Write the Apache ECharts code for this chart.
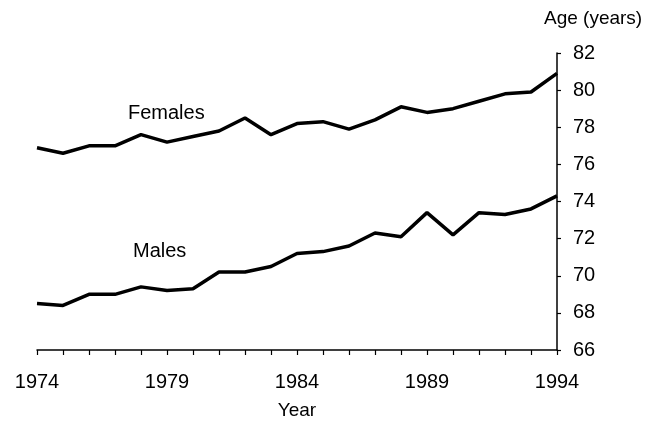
<!doctype html>
<html>
<head>
	<meta charset="utf-8">
	<title>Life expectancy</title>
	<script src="https://cdn.jsdelivr.net/npm/echarts@6/dist/echarts.min.js"></script>
	<style>
		html, body { margin: 0; padding: 0; background: #fff; }
		#main { width: 647px; height: 425px; }
	</style>
</head>
<body>
	<div id="main"></div>
	<script>
		// values
		var years = [1974, 1975, 1976, 1977, 1978, 1979, 1980, 1981, 1982, 1983, 1984,
			1985, 1986, 1987, 1988, 1989, 1990, 1991, 1992, 1993, 1994];
		var females = [76.9, 76.6, 77.0, 77.0, 77.6, 77.2, 77.5, 77.8, 78.5, 77.6, 78.2,
			78.3, 77.9, 78.4, 79.1, 78.8, 79.0, 79.4, 79.8, 79.9, 80.9];
		var males = [68.5, 68.4, 69.0, 69.0, 69.4, 69.2, 69.3, 70.2, 70.2, 70.5, 71.2,
			71.3, 71.6, 72.3, 72.1, 73.4, 72.2, 73.4, 73.3, 73.6, 74.3];
		var yearLabels = [1974, 1979, 1984, 1989, 1994];

		function pairs(vals) {
			return years.map(function (y, i) { return [y, vals[i]]; });
		}

		var font = 'Liberation Sans, Arial, sans-serif';
		var chart = echarts.init(document.getElementById('main'));
		chart.setOption({
			animation: false,
			grid: { left: 37, right: 90, top: 53, bottom: 75 },
			xAxis: {
				type: 'value', min: 1974, max: 1994, interval: 1,
				name: 'Year', nameLocation: 'middle', nameGap: 51,
				nameTextStyle: { color: '#000', fontSize: 19, fontFamily: font },
				axisLine: { lineStyle: { color: '#000', width: 1.5 } },
				axisTick: { inside: false, length: 5, lineStyle: { color: '#000', width: 1.2 } },
				splitLine: { show: false },
				axisLabel: {
					color: '#000', fontSize: 20, fontFamily: font, margin: 22,
					formatter: function (v) { return yearLabels.indexOf(v) >= 0 ? String(v) : ''; }
				}
			},
			yAxis: {
				type: 'value', position: 'right', min: 66, max: 82, interval: 2,
				axisLine: { show: true, lineStyle: { color: '#000', width: 1.5 } },
				axisTick: { show: true, inside: false, length: 4, lineStyle: { color: '#000', width: 1.2 } },
				splitLine: { show: false },
				axisLabel: { color: '#000', fontSize: 20, fontFamily: font, margin: 16 }
			},
			graphic: [
				{ type: 'text', left: 544, top: 9, style: { text: 'Age (years)', fill: '#000', font: '19px ' + font } },
				{ type: 'text', left: 128, top: 103, style: { text: 'Females', fill: '#000', font: '20px ' + font } },
				{ type: 'text', left: 133, top: 241, style: { text: 'Males', fill: '#000', font: '20px ' + font } }
			],
			series: [
				{ name: 'Females', type: 'line', data: pairs(females), symbol: 'none',
					lineStyle: { color: '#000', width: 3.5 } },
				{ name: 'Males', type: 'line', data: pairs(males), symbol: 'none',
					lineStyle: { color: '#000', width: 3.5 } }
			]
		});
	</script>
</body>
</html>
